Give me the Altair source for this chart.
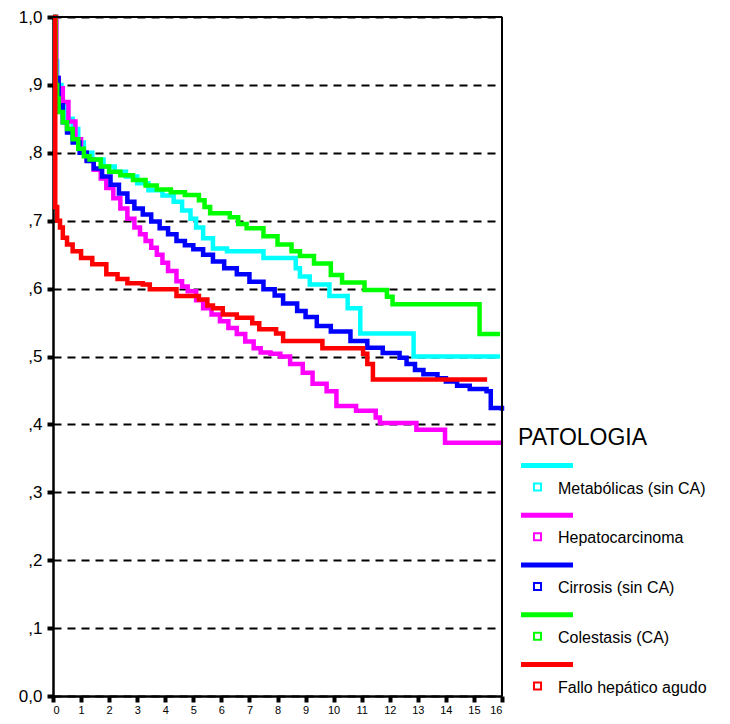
import altair as alt
import pandas as pd

# ---------------- data ----------------
categories = ["Metabólicas (sin CA)", "Hepatocarcinoma", "Cirrosis (sin CA)",
              "Colestasis (CA)", "Fallo hepático agudo"]
colors = ["#00FFFF", "#FF00FF", "#0000FF", "#00FF00", "#FF0000"]

metab_t = [0, 0.1, 0.15, 0.3, 0.5, 0.7, 0.9, 1.1, 1.4, 1.8, 2.2, 2.6, 3.0, 3.4, 3.9,
           4.3, 4.6, 4.9, 5.1, 5.35, 5.7, 6.2, 7.5, 8.65, 8.8, 9.15, 9.85, 10.5, 10.95,
           12.85, 15.93]
metab_s = [1.0, 0.935, 0.90, 0.87, 0.85, 0.835, 0.815, 0.80, 0.79, 0.78, 0.772, 0.765,
           0.755, 0.745, 0.737, 0.728, 0.715, 0.703, 0.69, 0.674, 0.659, 0.655, 0.645,
           0.63, 0.618, 0.606, 0.589, 0.571, 0.534, 0.50, 0.50]

hepato_t = [0, 0.12, 0.2, 0.35, 0.55, 0.8, 1.0, 1.2, 1.45, 1.7, 1.9, 2.15, 2.4, 2.65, 2.9,
            3.1, 3.3, 3.5, 3.7, 3.9, 4.1, 4.4, 4.6, 4.8, 5.1, 5.35, 5.65, 5.95, 6.25, 6.55,
            6.85, 7.15, 7.4, 7.75, 8.1, 8.45, 8.9, 9.25, 9.75, 10.1, 10.8, 11.5, 11.65,
            12.95, 13.97, 16.0]
hepato_s = [1.0, 0.91, 0.895, 0.875, 0.846, 0.82, 0.80, 0.79, 0.775, 0.762, 0.748, 0.733,
            0.718, 0.703, 0.69, 0.68, 0.67, 0.66, 0.65, 0.638, 0.626, 0.611, 0.603, 0.596,
            0.583, 0.571, 0.562, 0.552, 0.542, 0.533, 0.522, 0.512, 0.506, 0.504, 0.50,
            0.489, 0.476, 0.46, 0.449, 0.427, 0.42, 0.41, 0.402, 0.392, 0.373, 0.373]

cirr_t = [0, 0.1, 0.2, 0.35, 0.5, 0.7, 0.95, 1.2, 1.45, 1.75, 2.05, 2.35, 2.65, 2.9, 3.2,
          3.5, 3.8, 4.1, 4.4, 4.7, 5.0, 5.35, 5.7, 6.1, 6.55, 7.0, 7.5, 7.9, 8.2, 8.7, 9.0,
          9.4, 9.9, 10.6, 11.2, 11.75, 12.35, 12.6, 12.9, 13.2, 13.7, 14.0, 14.4, 14.85,
          15.45, 15.6, 16.0]
cirr_s = [1.0, 0.91, 0.87, 0.845, 0.83, 0.815, 0.80, 0.788, 0.777, 0.765, 0.753, 0.74,
          0.728, 0.718, 0.709, 0.699, 0.689, 0.68, 0.67, 0.664, 0.658, 0.65, 0.64, 0.63,
          0.621, 0.61, 0.599, 0.59, 0.578, 0.567, 0.558, 0.545, 0.537, 0.523, 0.513,
          0.505, 0.498, 0.489, 0.48, 0.474, 0.468, 0.463, 0.457, 0.452, 0.449, 0.424, 0.42]

coles_t = [0, 0.1, 0.15, 0.2, 0.35, 0.5, 0.7, 0.9, 1.1, 1.3, 1.7, 2.0, 2.4, 2.85, 3.3,
           3.7, 4.2, 4.7, 5.2, 5.4, 5.6, 6.3, 6.6, 6.9, 7.5, 8.0, 8.5, 8.8, 9.3, 9.9, 10.3,
           11.1, 11.9, 12.1, 15.2, 15.93]
coles_s = [1.0, 0.90, 0.88, 0.86, 0.845, 0.835, 0.82, 0.806, 0.795, 0.79, 0.78, 0.772,
           0.767, 0.76, 0.752, 0.746, 0.742, 0.738, 0.73, 0.72, 0.711, 0.705, 0.695, 0.689,
           0.677, 0.665, 0.655, 0.648, 0.637, 0.62, 0.609, 0.598, 0.588, 0.577, 0.533, 0.533]

fallo_t = [0, 0.08, 0.15, 0.25, 0.35, 0.5, 0.7, 1.0, 1.4, 1.9, 2.3, 2.65, 3.2, 3.45, 4.4,
           5.2, 5.5, 5.7, 6.05, 6.55, 7.1, 7.35, 7.95, 8.2, 9.6, 11.05, 11.2, 11.4, 15.47]
fallo_s = [1.0, 0.72, 0.70, 0.69, 0.675, 0.665, 0.655, 0.645, 0.636, 0.621, 0.614, 0.608,
           0.606, 0.599, 0.589, 0.584, 0.575, 0.571, 0.562, 0.557, 0.549, 0.54, 0.534,
           0.523, 0.512, 0.504, 0.489, 0.466, 0.466]

series_t = [metab_t, hepato_t, cirr_t, coles_t, fallo_t]
series_s = [metab_s, hepato_s, cirr_s, coles_s, fallo_s]

y_ticks = [0, 0.1, 0.2, 0.3, 0.4, 0.5, 0.6, 0.7, 0.8, 0.9, 1.0]
x_ticks = list(range(0, 17))

# ---------------- chart ----------------
FONT = "Liberation Sans"
W, H = 449, 679
color_scale = alt.Scale(domain=categories, range=colors)

x_enc = alt.X("t:Q", scale=alt.Scale(domain=[0, 16], nice=False),
              axis=alt.Axis(values=x_ticks, title=None, grid=False, labelFontSize=11,
                            labelFont=FONT, labelColor="black", domainColor="black",
                            domainWidth=2.5, tickColor="black", tickSize=6, tickWidth=4,
                            labelPadding=2, labelAngle=0))
y_enc = alt.Y("s:Q", scale=alt.Scale(domain=[0, 1], nice=False),
              axis=alt.Axis(values=y_ticks, title=None, grid=True, gridColor="black",
                            gridDash=[8, 6], gridWidth=2, gridOpacity=1,
                            labelFontSize=17, labelFont=FONT, labelColor="black",
                            domainColor="black", domainWidth=2.5, tickColor="black",
                            tickSize=6, tickWidth=4, labelPadding=5,
                            labelExpr="datum.value == 0 ? '0,0' : (datum.value == 1 ? '1,0' : ',' + format(datum.value*10, '.0f'))"))

line_layers = []
for cat, ts, ss in zip(categories, series_t, series_s):
    d = pd.DataFrame({"t": ts, "s": ss, "cat": cat})
    line_layers.append(
        alt.Chart(d).mark_line(interpolate="step-after", strokeWidth=4.5,
                               strokeCap="butt", strokeJoin="miter").encode(
            x=x_enc, y=y_enc,
            color=alt.Color("cat:N", scale=color_scale, legend=None))
    )
main = alt.layer(*line_layers)

one = pd.DataFrame({"a": [0]})
frame_top = alt.Chart(one).mark_rule(color="black", strokeWidth=2).encode(
    x=alt.value(0), x2=alt.value(W), y=alt.value(0))
frame_right = alt.Chart(one).mark_rule(color="black", strokeWidth=2).encode(
    x=alt.value(W), y=alt.value(0), y2=alt.value(H))

leg_df = pd.DataFrame({"cat": categories, "idx": list(range(len(categories)))})
leg_y = alt.Y("idx:Q", scale=alt.Scale(domain=[0, 4], range=[448.5, 647.5]), axis=None)

leg_title = alt.Chart(one).mark_text(
    text="PATOLOGIA", align="left", baseline="alphabetic", fontSize=23, font=FONT,
    color="black").encode(x=alt.value(465), y=alt.value(428))
leg_lines = alt.Chart(leg_df).mark_rule(strokeWidth=5).encode(
    x=alt.value(468), x2=alt.value(520), y=leg_y,
    color=alt.Color("cat:N", scale=color_scale, legend=None))
leg_sq = alt.Chart(leg_df).mark_point(shape="square", filled=False, size=50,
                                      strokeWidth=2, yOffset=21.5, opacity=1).encode(
    x=alt.value(484.5), y=leg_y,
    color=alt.Color("cat:N", scale=color_scale, legend=None))
leg_txt = alt.Chart(leg_df).mark_text(align="left", baseline="middle", fontSize=16,
                                      font=FONT, color="black", yOffset=23).encode(
    x=alt.value(505), y=leg_y, text="cat:N")
legend = alt.layer(leg_lines, leg_sq, leg_txt)

chart = alt.layer(main, legend, leg_title, frame_top, frame_right).resolve_scale(
    y="independent").properties(
    width=W, height=H,
    padding={"left": 45, "top": 9, "right": 220, "bottom": 20},
    autosize=alt.AutoSizeParams(type="none"),
).configure_view(stroke=None).configure(background="white")

chart.save("out.html", embed_options={"renderer": "svg", "actions": False})
